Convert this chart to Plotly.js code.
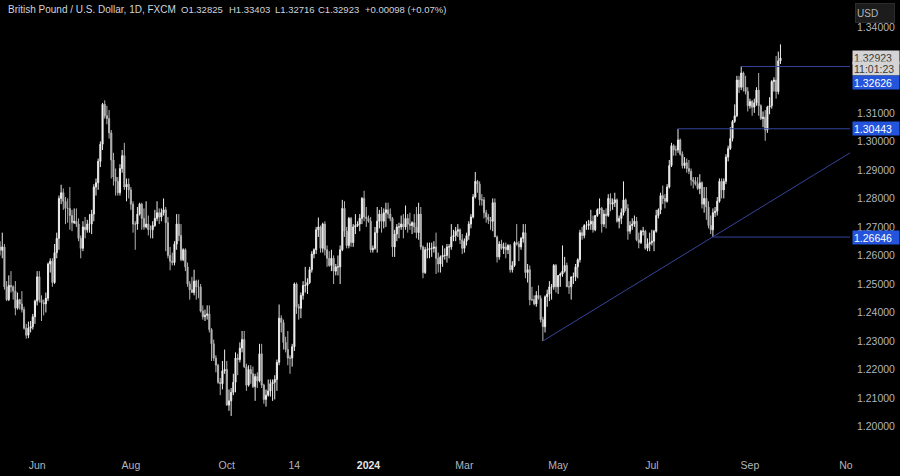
<!DOCTYPE html>
<html><head><meta charset="utf-8">
<script src="https://cdn.plot.ly/plotly-3.0.1.min.js"></script>
<style>html,body{margin:0;padding:0;background:#000;}#chart{width:900px;height:476px;}</style>
</head><body><div id="chart"></div>
<script>
// GBP/USD daily (FXCM), first bar 2023-05-09, one bar per weekday
const firstBarDate = '2023-05-09';

const open = [
 1.2630,1.2618,1.2630,1.2490,1.2445,1.2495,1.2490,1.2475,1.2415,1.2445,1.2430,1.2410,1.2345,1.2320,1.2345,1.2350,1.2385,
 1.2440,1.2525,1.2445,1.2435,1.2430,1.2450,1.2570,1.2580,1.2505,1.2610,1.2660,1.2800,1.2820,1.2790,1.2765,1.2765,1.2740,1.2715,1.2720,1.2710,1.2660,1.2625,
 1.2700,1.2690,1.2710,1.2710,1.2745,1.2840,1.2855,1.2930,1.2990,1.3130,1.3090,1.3080,1.3030,1.2935,1.2875,1.2860,1.2820,1.2905,1.2950,1.2840,1.2850,
 1.2830,1.2780,1.2710,1.2710,1.2745,1.2780,1.2730,1.2700,1.2710,1.2690,1.2690,1.2705,1.2730,1.2750,1.2735,1.2750,1.2760,1.2715,1.2600,1.2580,1.2575,1.2640,1.2710,
 1.2670,1.2585,1.2620,1.2560,1.2500,1.2480,1.2470,1.2510,1.2490,1.2490,1.2405,1.2385,1.2390,1.2395,1.2340,1.2290,1.2240,1.2215,1.2155,1.2150,1.2195,
 1.2200,1.2075,1.2090,1.2120,1.2155,1.2240,1.2235,1.2275,1.2305,1.2210,1.2145,1.2200,1.2185,1.2140,1.2175,1.2160,1.2255,1.2145,1.2095,1.2110,1.2125,1.2150,
 1.2155,1.2165,1.2225,1.2380,1.2365,1.2295,1.2270,1.2240,1.2240,1.2280,1.2500,1.2420,1.2415,1.2460,1.2495,1.2495,1.2505,1.2550,1.2605,1.2620,1.2690,1.2700,
 1.2625,1.2710,1.2620,1.2590,1.2565,1.2590,1.2545,1.2560,1.2560,1.2620,1.2765,1.2685,1.2635,1.2730,1.2645,1.2700,1.2705,1.2710,1.2730,1.2800,1.2735,
 1.2730,1.2720,1.2620,1.2625,1.2680,1.2720,1.2745,1.2720,1.2750,1.2760,1.2745,1.2730,1.2630,1.2675,1.2700,1.2700,1.2710,1.2700,1.2730,1.2710,1.2705,1.2715,1.2700,
 1.2680,1.2745,1.2630,1.2540,1.2620,1.2620,1.2625,1.2625,1.2630,1.2590,1.2570,1.2595,1.2600,1.2600,1.2630,1.2630,1.2665,1.2670,1.2685,1.2690,1.2655,
 1.2625,1.2650,1.2670,1.2710,1.2735,1.2805,1.2860,1.2850,1.2795,1.2795,1.2750,1.2735,1.2725,1.2720,1.2785,1.2665,1.2595,1.2640,1.2625,1.2630,1.2620,
 1.2635,1.2550,1.2565,1.2645,1.2640,1.2630,1.2660,1.2680,1.2540,1.2550,1.2445,1.2445,1.2430,1.2460,1.2450,1.2375,1.2350,1.2455,1.2465,1.2490,1.2490,1.2565,
 1.2490,1.2530,1.2535,1.2545,1.2565,1.2490,1.2490,1.2525,1.2525,1.2560,1.2585,1.2680,1.2670,1.2705,1.2705,1.2710,1.2720,1.2690,1.2740,1.2760,1.2765,1.2710,1.2745,
 1.2740,1.2800,1.2780,1.2785,1.2795,1.2720,1.2730,1.2750,1.2795,1.2765,1.2685,1.2705,1.2710,1.2720,1.2655,1.2645,1.2685,1.2685,1.2625,1.2640,
 1.2645,1.2650,1.2685,1.2740,1.2760,1.2810,1.2800,1.2790,1.2840,1.2915,1.2985,1.2970,1.2970,1.3005,1.2955,1.2915,1.2925,1.2905,1.2895,1.2865,1.2860,1.2850,1.2835,
 1.2855,1.2780,1.2800,1.2770,1.2705,1.2690,1.2750,1.2755,1.2790,1.2860,1.2830,1.2860,1.2945,1.2975,1.3010,1.3070,1.3090,1.3215,1.3190,1.3240,1.3190,1.3175,
 1.3125,1.3140,1.3120,1.3135,1.3180,1.3125,1.3080,1.3085,1.3040,1.3120,1.3125,1.3210,1.3215,1.3175,1.32825
];
const high = [
 1.2650,1.2680,1.2640,1.2510,1.2530,1.2545,1.2495,1.2510,1.2470,1.2448,1.2475,1.2420,1.2360,1.2368,1.2370,1.2395,1.2445,
 1.2545,1.2545,1.2460,1.2445,1.2470,1.2575,1.2590,1.2590,1.2640,1.2680,1.2810,1.2848,1.2835,1.2805,1.2800,1.2840,1.2760,1.2765,1.2765,1.2730,1.2670,1.2720,
 1.2735,1.2725,1.2745,1.2760,1.2850,1.2870,1.2940,1.3000,1.3135,1.3144,1.3125,1.3110,1.3040,1.2960,1.2905,1.2875,1.2920,1.2970,1.2995,1.2870,1.2870,
 1.2840,1.2790,1.2720,1.2770,1.2785,1.2785,1.2765,1.2790,1.2740,1.2705,1.2720,1.2760,1.2790,1.2765,1.2765,1.2800,1.2770,1.2735,1.2630,1.2610,1.2650,1.2745,1.2745,
 1.2710,1.2625,1.2625,1.2575,1.2510,1.2525,1.2550,1.2515,1.2515,1.2500,1.2425,1.2410,1.2425,1.2425,1.2345,1.2305,1.2250,1.2220,1.2170,1.2230,1.2270,
 1.2230,1.2130,1.2135,1.2185,1.2260,1.2255,1.2295,1.2335,1.2335,1.2220,1.2215,1.2215,1.2210,1.2185,1.2190,1.2290,1.2290,1.2150,1.2130,1.2165,1.2165,1.2165,
 1.2180,1.2235,1.2428,1.2390,1.2375,1.2315,1.2335,1.2250,1.2290,1.2505,1.2505,1.2430,1.2470,1.2510,1.2560,1.2520,1.2560,1.2615,1.2625,1.2700,1.2733,1.2705,
 1.2715,1.2720,1.2635,1.2615,1.2620,1.2600,1.2570,1.2600,1.2635,1.2795,1.2790,1.2700,1.2735,1.2735,1.2710,1.2745,1.2720,1.2745,1.2805,1.2827,1.2770,
 1.2740,1.2735,1.2635,1.2700,1.2770,1.2760,1.2770,1.2765,1.2785,1.2785,1.2765,1.2735,1.2690,1.2710,1.2715,1.2740,1.2745,1.2775,1.2745,1.2750,1.2720,1.2745,1.2770,
 1.2785,1.2770,1.2635,1.2630,1.2645,1.2645,1.2645,1.2650,1.2680,1.2610,1.2600,1.2635,1.2625,1.2640,1.2640,1.2710,1.2690,1.2700,1.2710,1.2695,1.2675,
 1.2660,1.2680,1.2720,1.2745,1.2815,1.2893,1.2865,1.2860,1.2815,1.2805,1.2760,1.2745,1.2735,1.2800,1.2800,1.2670,1.2650,1.2655,1.2645,1.2645,1.2640,
 1.2640,1.2580,1.2650,1.2710,1.2650,1.2665,1.2710,1.2710,1.2570,1.2565,1.2490,1.2460,1.2475,1.2495,1.2460,1.2385,1.2460,1.2480,1.2510,1.2500,1.2570,1.2570,
 1.2530,1.2540,1.2635,1.2595,1.2575,1.2510,1.2525,1.2540,1.2570,1.2590,1.2690,1.2700,1.2710,1.2720,1.2725,1.2760,1.2740,1.2740,1.2765,1.2800,1.2770,1.2760,1.2765,
 1.2815,1.2818,1.2800,1.2820,1.2800,1.2740,1.2765,1.2860,1.2800,1.2780,1.2720,1.2730,1.2740,1.2735,1.2680,1.2690,1.2700,1.2690,1.2660,1.2680,
 1.2690,1.2690,1.2760,1.2765,1.2820,1.2845,1.2815,1.2850,1.2935,1.2995,1.2990,1.2985,1.3044,1.3010,1.2965,1.2945,1.2940,1.2935,1.2905,1.2875,1.2875,1.2875,1.2885,
 1.2860,1.2840,1.2840,1.2790,1.2740,1.2765,1.2770,1.2805,1.2870,1.2870,1.2870,1.2955,1.2985,1.3050,1.3075,1.3130,1.3230,1.3230,1.3263,1.3245,1.3230,1.3190,
 1.3150,1.3145,1.3150,1.3190,1.3240,1.3130,1.3105,1.3110,1.3125,1.3155,1.3215,1.3225,1.3300,1.3315,1.33403
];
const low = [
 1.2600,1.2590,1.2480,1.2440,1.2440,1.2470,1.2445,1.2390,1.2410,1.2410,1.2400,1.2340,1.2308,1.2310,1.2330,1.2340,1.2360,
 1.2425,1.2435,1.2370,1.2390,1.2400,1.2440,1.2540,1.2490,1.2500,1.2590,1.2620,1.2780,1.2760,1.2710,1.2715,1.2690,1.2685,1.2710,1.2700,1.2650,1.2590,1.2615,
 1.2660,1.2680,1.2680,1.2675,1.2720,1.2810,1.2830,1.2910,1.2970,1.3080,1.3060,1.3010,1.2870,1.2845,1.2810,1.2810,1.2810,1.2890,1.2830,1.2790,1.2800,
 1.2760,1.2680,1.2620,1.2690,1.2740,1.2690,1.2690,1.2695,1.2670,1.2660,1.2660,1.2700,1.2720,1.2710,1.2720,1.2740,1.2615,1.2590,1.2548,1.2565,1.2565,1.2620,1.2650,
 1.2580,1.2580,1.2545,1.2490,1.2445,1.2470,1.2460,1.2445,1.2450,1.2400,1.2375,1.2370,1.2375,1.2330,1.2230,1.2230,1.2190,1.2150,1.2110,1.2130,1.2185,
 1.2075,1.2055,1.2037,1.2110,1.2120,1.2180,1.2225,1.2260,1.2205,1.2125,1.2140,1.2150,1.2135,1.2090,1.2135,1.2155,1.2135,1.2080,1.2070,1.2105,1.2105,1.2090,
 1.2095,1.2125,1.2215,1.2330,1.2270,1.2260,1.2215,1.2185,1.2210,1.2265,1.2395,1.2375,1.2380,1.2445,1.2470,1.2465,1.2500,1.2540,1.2590,1.2605,1.2665,1.2610,
 1.2610,1.2600,1.2560,1.2560,1.2545,1.2500,1.2530,1.2530,1.2500,1.2615,1.2665,1.2625,1.2625,1.2630,1.2630,1.2675,1.2700,1.2685,1.2710,1.2720,1.2700,
 1.2715,1.2610,1.2610,1.2620,1.2610,1.2695,1.2680,1.2695,1.2700,1.2730,1.2720,1.2595,1.2595,1.2650,1.2660,1.2690,1.2660,1.2690,1.2680,1.2690,1.2675,1.2680,1.2660,
 1.2655,1.2620,1.2520,1.2535,1.2590,1.2590,1.2595,1.2610,1.2535,1.2540,1.2540,1.2560,1.2585,1.2575,1.2590,1.2620,1.2650,1.2650,1.2665,1.2640,1.2605,
 1.2610,1.2635,1.2655,1.2695,1.2730,1.2800,1.2820,1.2775,1.2775,1.2730,1.2715,1.2710,1.2690,1.2685,1.2665,1.2575,1.2585,1.2620,1.2605,1.2590,1.2605,
 1.2540,1.2540,1.2560,1.2635,1.2580,1.2620,1.2645,1.2520,1.2505,1.2425,1.2440,1.2425,1.2420,1.2445,1.2365,1.2300,1.2330,1.2420,1.2440,1.2445,1.2480,1.2470,
 1.2465,1.2490,1.2525,1.2540,1.2490,1.2465,1.2445,1.2500,1.2510,1.2520,1.2575,1.2655,1.2660,1.2690,1.2690,1.2690,1.2680,1.2685,1.2735,1.2745,1.2680,1.2700,1.2695,
 1.2735,1.2755,1.2760,1.2770,1.2715,1.2695,1.2710,1.2740,1.2755,1.2655,1.2675,1.2690,1.2700,1.2650,1.2625,1.2640,1.2670,1.2620,1.2615,1.2615,
 1.2635,1.2615,1.2680,1.2730,1.2745,1.2780,1.2765,1.2785,1.2835,1.2910,1.2950,1.2950,1.2960,1.2950,1.2905,1.2905,1.2890,1.2885,1.2845,1.2835,1.2845,1.2830,1.2815,
 1.2765,1.2750,1.2725,1.2695,1.2675,1.2665,1.2735,1.2740,1.2785,1.2800,1.2800,1.2850,1.2930,1.2970,1.3000,1.3065,1.3085,1.3170,1.3180,1.3175,1.3165,1.3105,
 1.3115,1.3090,1.3100,1.3125,1.3090,1.3075,1.3050,1.3002,1.3030,1.3095,1.3115,1.3175,1.3150,1.3165,1.32716
];
const close = [
 1.2618,1.2630,1.2490,1.2445,1.2495,1.2490,1.2475,1.2415,1.2445,1.2430,1.2410,1.2345,1.2320,1.2345,1.2350,1.2385,1.2440,
 1.2525,1.2445,1.2435,1.2430,1.2450,1.2570,1.2580,1.2505,1.2610,1.2660,1.2800,1.2820,1.2790,1.2765,1.2765,1.2740,1.2715,1.2720,1.2710,1.2660,1.2625,1.2700,
 1.2690,1.2710,1.2710,1.2745,1.2840,1.2855,1.2930,1.2990,1.3130,1.3090,1.3080,1.3030,1.2935,1.2875,1.2860,1.2820,1.2905,1.2950,1.2840,1.2850,1.2830,
 1.2780,1.2710,1.2710,1.2745,1.2780,1.2730,1.2700,1.2710,1.2690,1.2690,1.2705,1.2730,1.2750,1.2735,1.2750,1.2760,1.2715,1.2600,1.2580,1.2575,1.2640,1.2710,1.2670,
 1.2585,1.2620,1.2560,1.2500,1.2480,1.2470,1.2510,1.2490,1.2490,1.2405,1.2385,1.2390,1.2395,1.2340,1.2290,1.2240,1.2215,1.2155,1.2150,1.2195,1.2200,
 1.2075,1.2090,1.2120,1.2155,1.2240,1.2235,1.2275,1.2305,1.2210,1.2145,1.2200,1.2185,1.2140,1.2175,1.2160,1.2255,1.2145,1.2095,1.2110,1.2125,1.2150,1.2155,
 1.2165,1.2225,1.2380,1.2365,1.2295,1.2270,1.2240,1.2240,1.2280,1.2500,1.2420,1.2415,1.2460,1.2495,1.2495,1.2505,1.2550,1.2605,1.2620,1.2690,1.2700,1.2625,
 1.2710,1.2620,1.2590,1.2565,1.2590,1.2545,1.2560,1.2560,1.2620,1.2765,1.2685,1.2635,1.2730,1.2645,1.2700,1.2705,1.2710,1.2730,1.2800,1.2735,1.2730,
 1.2720,1.2620,1.2625,1.2680,1.2720,1.2745,1.2720,1.2750,1.2760,1.2745,1.2730,1.2630,1.2675,1.2700,1.2700,1.2710,1.2700,1.2730,1.2710,1.2705,1.2715,1.2700,1.2680,
 1.2745,1.2630,1.2540,1.2620,1.2620,1.2625,1.2625,1.2630,1.2590,1.2570,1.2595,1.2600,1.2600,1.2630,1.2630,1.2665,1.2670,1.2685,1.2690,1.2655,1.2625,
 1.2650,1.2670,1.2710,1.2735,1.2805,1.2860,1.2850,1.2795,1.2795,1.2750,1.2735,1.2725,1.2720,1.2785,1.2665,1.2595,1.2640,1.2625,1.2630,1.2620,1.2635,
 1.2550,1.2565,1.2645,1.2640,1.2630,1.2660,1.2680,1.2540,1.2550,1.2445,1.2445,1.2430,1.2460,1.2450,1.2375,1.2350,1.2455,1.2465,1.2490,1.2490,1.2565,1.2490,
 1.2530,1.2535,1.2545,1.2565,1.2490,1.2490,1.2525,1.2525,1.2560,1.2585,1.2680,1.2670,1.2705,1.2705,1.2710,1.2720,1.2690,1.2740,1.2760,1.2765,1.2710,1.2745,1.2740,
 1.2800,1.2780,1.2785,1.2795,1.2720,1.2730,1.2750,1.2795,1.2765,1.2685,1.2705,1.2710,1.2720,1.2655,1.2645,1.2685,1.2685,1.2625,1.2640,1.2645,
 1.2650,1.2685,1.2740,1.2760,1.2810,1.2800,1.2790,1.2840,1.2915,1.2985,1.2970,1.2970,1.3005,1.2955,1.2915,1.2925,1.2905,1.2895,1.2865,1.2860,1.2850,1.2835,1.2855,
 1.2780,1.2800,1.2770,1.2705,1.2690,1.2750,1.2755,1.2790,1.2860,1.2830,1.2860,1.2945,1.2975,1.3010,1.3070,1.3090,1.3215,1.3190,1.3240,1.3190,1.3175,1.3125,
 1.3140,1.3120,1.3135,1.3180,1.3125,1.3080,1.3085,1.3040,1.3120,1.3125,1.3210,1.3215,1.3175,1.32825,1.32923
];

// horizontal levels drawn on the chart
const levelPrices = [1.32626, 1.30443, 1.26646];
const levelStartDates = ['2024-08-27', '2024-07-17', '2024-08-08'];
// rising trend line
const trendDates = ['2024-04-22', '2024-11-04 21:36'];
const trendPrices = [1.2300, 1.2960];

// axis ticks
const xTickDates = ['2023-06-01','2023-08-01','2023-10-02','2023-11-14','2024-01-01','2024-03-01','2024-05-01','2024-07-01','2024-09-02','2024-11-01'];
const xTickLabels = ['Jun','Aug','Oct','14','<b><span style="color:#e6e6e6">2024</span></b>','Mar','May','Jul','Sep','No'];
const yTickValues = [1.20,1.21,1.22,1.23,1.24,1.25,1.26,1.27,1.28,1.29,1.30,1.31,1.34];

const symbolName = 'British Pound / U.S. Dollar, 1D, FXCM';
const countdown = '11:01:23';
const quoteCurrency = 'USD';

function tradingDays(start, n) {
  const out = [];
  const d = new Date(start + 'T00:00:00Z');
  while (out.length < n) {
    const w = d.getUTCDay();
    if (w !== 0 && w !== 6) out.push(d.toISOString().slice(0, 10));
    d.setUTCDate(d.getUTCDate() + 1);
  }
  return out;
}
const dates = tradingDays(firstBarDate, close.length);
const n = close.length;

const lineColor = '#34449c';
const blue = '#2454dc';
const txt = '#d1d4dc';
const axisTxt = '#b2b5be';
const FONT = 'Liberation Sans, Arial, sans-serif';

const trace = {
  type: 'candlestick', x: dates, open: open, high: high, low: low, close: close,
  increasing: {line: {color: '#ececec', width: 1}, fillcolor: '#ffffff'},
  decreasing: {line: {color: '#b4b4b4', width: 1}, fillcolor: '#b4b4b4'},
  whiskerwidth: 0, hoverinfo: 'skip', showlegend: false
};

const xEnd = trendDates[1];
const shapes = levelPrices.map((p, i) => ({
  type: 'line', xref: 'x', yref: 'y', x0: levelStartDates[i], x1: xEnd, y0: p, y1: p,
  line: {color: lineColor, width: 1}, layer: 'above'
}));
shapes.push({type: 'line', xref: 'x', yref: 'y', x0: trendDates[0], x1: trendDates[1],
  y0: trendPrices[0], y1: trendPrices[1], line: {color: lineColor, width: 1}, layer: 'above'});

const W = 850; // plot width px
const lastC = close[n - 1], prevC = close[n - 2];
const chg = lastC - prevC;
const pct = chg / prevC * 100;
const sign = chg >= 0 ? '+' : '-';
const headerParts = [
  [symbolName, 7, 10],
  ['O' + open[n - 1].toFixed(5), 180, 9.5],
  ['H' + high[n - 1].toFixed(5), 228, 9.5],
  ['L' + low[n - 1].toFixed(5), 274, 9.5],
  ['C' + lastC.toFixed(5), 317, 9.5],
  [sign + Math.abs(chg).toFixed(5) + ' (' + sign + Math.abs(pct).toFixed(2) + '%)', 364, 9.5]
];
const annotations = headerParts.map(([t, px, fs]) => ({
  xref: 'paper', yref: 'paper', x: px / W, y: 1, xanchor: 'left', yanchor: 'top', yshift: -3,
  text: t, showarrow: false, font: {family: FONT, size: fs, color: txt}, borderpad: 0
}));
// USD button
annotations.push({xref: 'paper', yref: 'paper', x: 1, y: 1, xanchor: 'left', yanchor: 'top',
  xshift: 5, yshift: -3, text: quoteCurrency, showarrow: false, width: 36, height: 16,
  bgcolor: '#1c1c1c', bordercolor: '#2c2c2c', borderwidth: 1, borderpad: 1,
  font: {family: FONT, size: 10, color: axisTxt}, align: 'left'});
// price labels
function priceBox(text, y, yshift, bg, col) {
  return {xref: 'paper', yref: 'y', x: 1, y: y, xanchor: 'left', yanchor: 'middle', xshift: 2, yshift: yshift,
    text: text, showarrow: false, width: 44, height: 11, bgcolor: bg, borderpad: 1, align: 'left',
    font: {family: FONT, size: 10.5, color: col}};
}
annotations.push(priceBox(lastC.toFixed(5), lastC, 1, '#d4d4d4', '#3a3a3a'));
annotations.push(priceBox(countdown, lastC, -10.5, '#d4d4d4', '#3a3a3a'));
annotations.push(priceBox(levelPrices[0].toFixed(5), levelPrices[0], -16, blue, '#ffffff'));
annotations.push(priceBox(levelPrices[1].toFixed(5), levelPrices[1], 0, blue, '#ffffff'));
annotations.push(priceBox(levelPrices[2].toFixed(5), levelPrices[2], 0, blue, '#ffffff'));

const lens = [open.length, high.length, low.length, close.length];
if (new Set(lens).size !== 1) {
  annotations.push({xref: 'paper', yref: 'paper', x: 0.3, y: 0.5, text: 'LEN ' + lens.join(','), showarrow: false, font: {size: 20, color: 'red'}});
}

const layout = {
  width: 900, height: 476,
  margin: {l: 0, r: 50, t: 0, b: 22, pad: 0},
  paper_bgcolor: '#000000', plot_bgcolor: '#000000', showlegend: false,
  xaxis: {
    type: 'date', range: [ '2023-05-08 23:00', xEnd ],
    rangebreaks: [{bounds: ['sat', 'mon']}],
    rangeslider: {visible: false}, showgrid: false, zeroline: false, showline: false,
    ticks: '', tickmode: 'array', tickvals: xTickDates, ticktext: xTickLabels,
    tickfont: {family: FONT, size: 10.5, color: axisTxt}, ticklabelstandoff: 3, fixedrange: true
  },
  yaxis: {
    side: 'right', range: [1.19036, 1.34960], showgrid: false, zeroline: false, showline: false,
    ticks: '', tickmode: 'array', tickvals: yTickValues, ticktext: yTickValues.map(v => v.toFixed(5)),
    tickfont: {family: FONT, size: 10.5, color: axisTxt}, ticklabelstandoff: 6, fixedrange: true
  },
  shapes: shapes, annotations: annotations
};

Plotly.newPlot('chart', [trace], layout, {staticPlot: true, displayModeBar: false});
</script></body></html>
